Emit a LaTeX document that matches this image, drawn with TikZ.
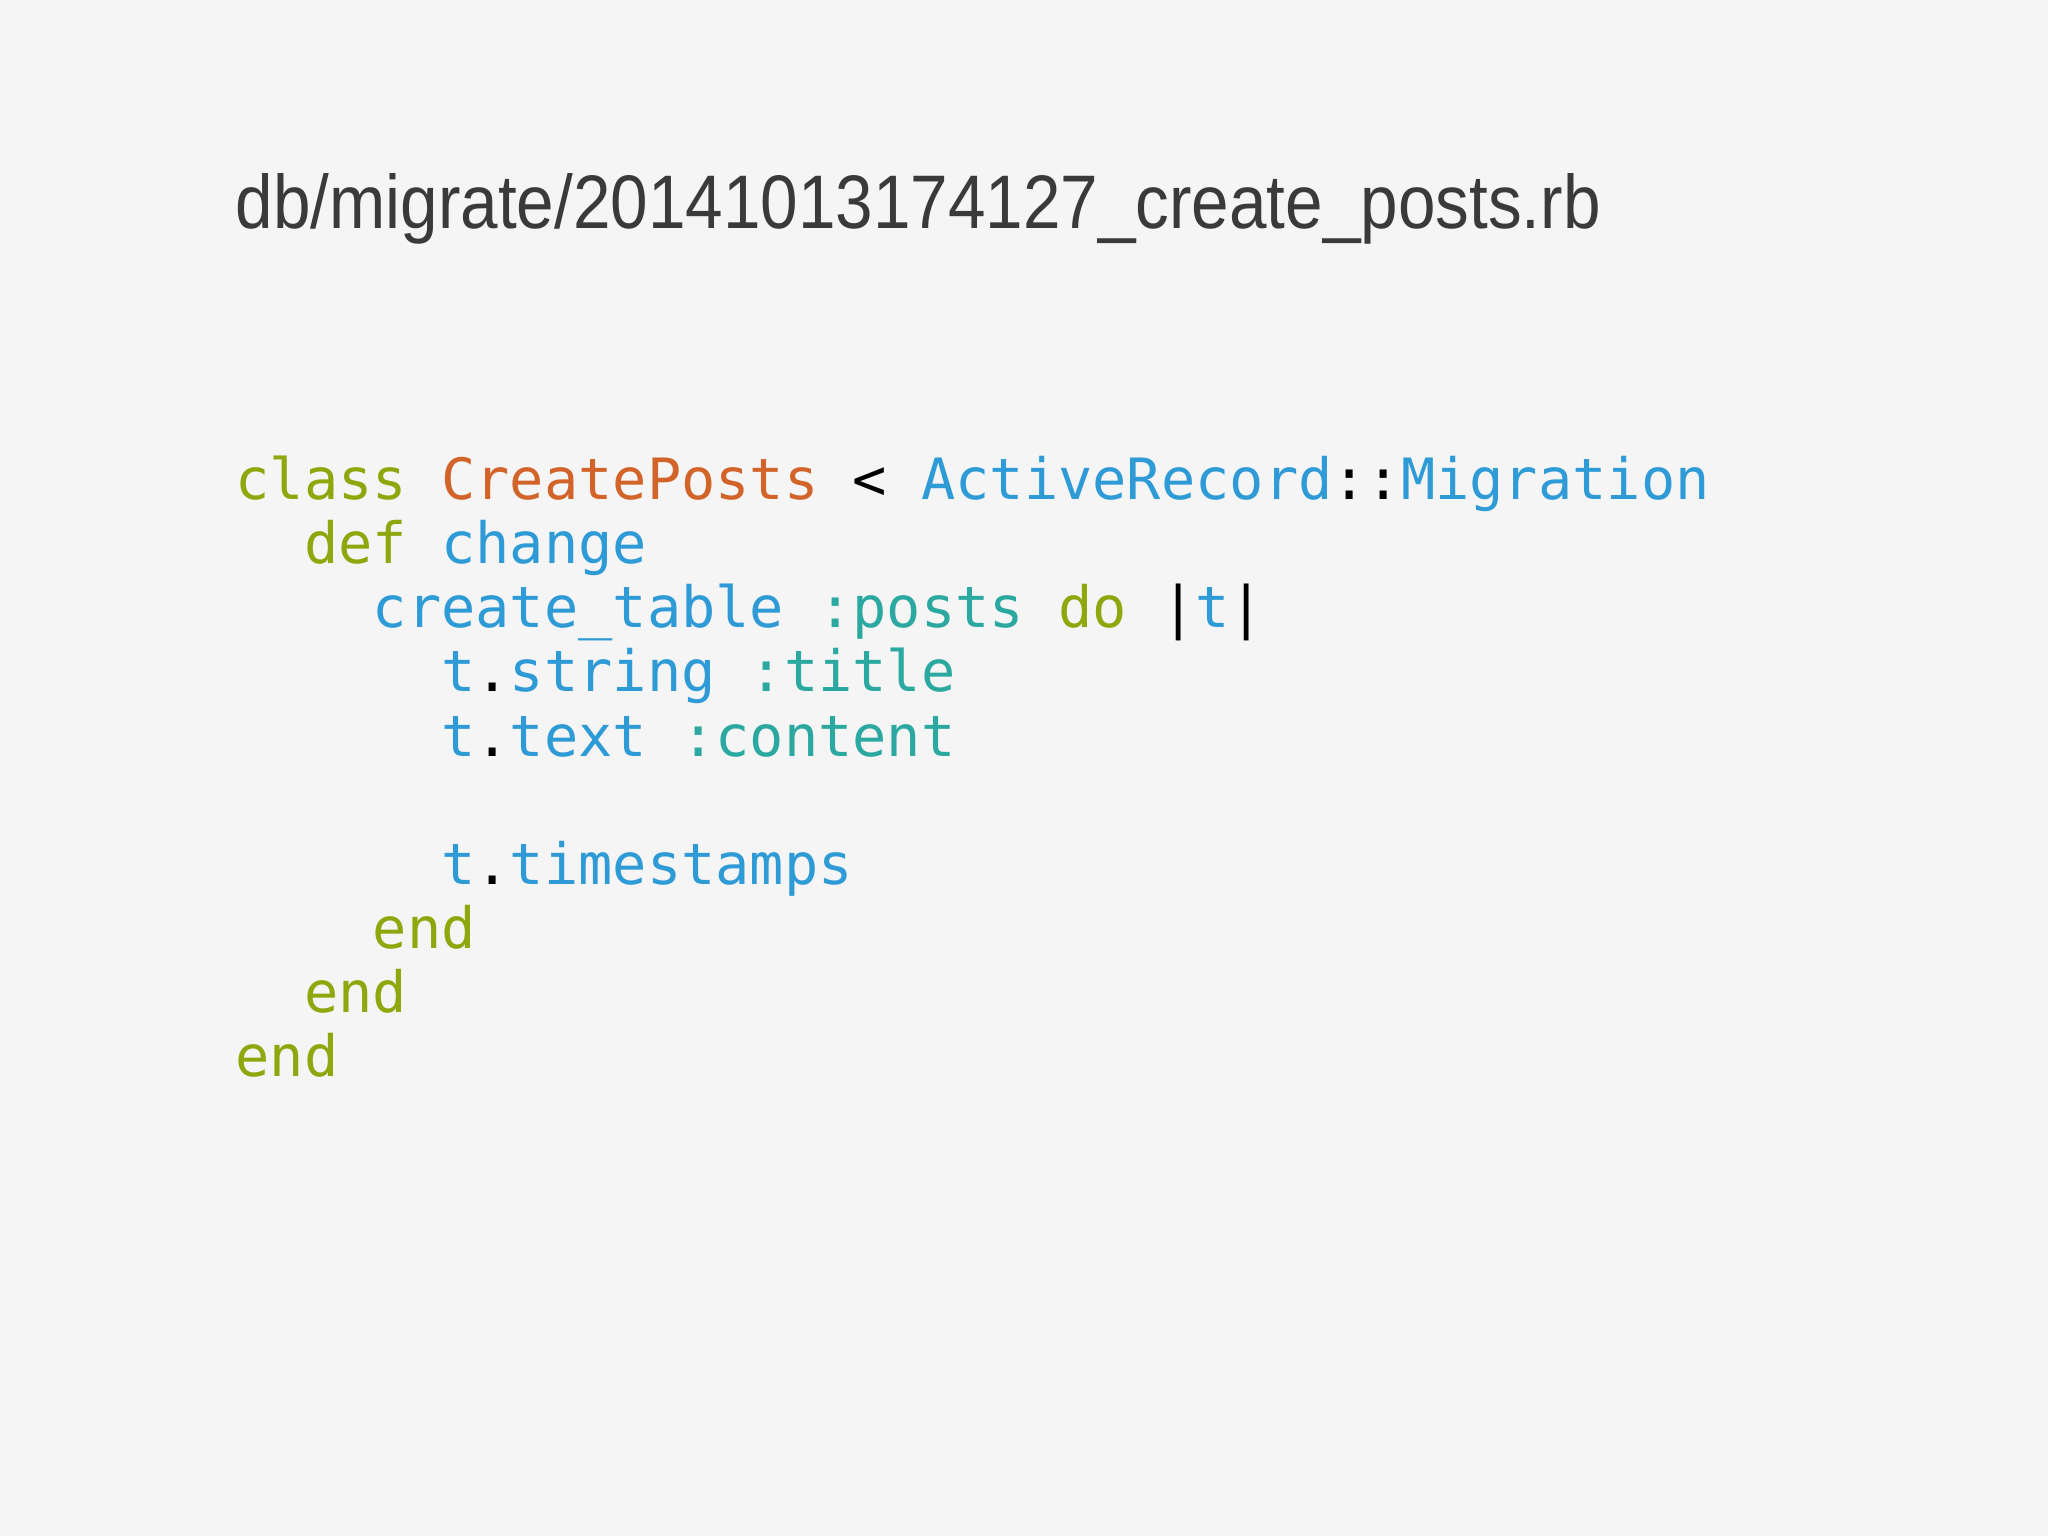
\documentclass[tikz,border=0pt]{standalone}
\usepackage{fontspec}
\setmainfont{Liberation Sans}
\setmonofont{DejaVu Sans Mono}
\definecolor{bg}{HTML}{F5F5F6}
\definecolor{kw}{HTML}{8EA70C}
\definecolor{cn}{HTML}{D2642A}
\definecolor{fn}{HTML}{2E9BD6}
\definecolor{sy}{HTML}{2BA9A0}
\definecolor{tt}{HTML}{3A3A3A}
\newcommand{\rbK}[1]{\textcolor{kw}{#1}}
\newcommand{\rbC}[1]{\textcolor{cn}{#1}}
\newcommand{\rbF}[1]{\textcolor{fn}{#1}}
\newcommand{\rbS}[1]{\textcolor{sy}{#1}}
\tikzset{codeline/.style={anchor=base west,inner sep=0pt,font=\fontsize{16.2pt}{19pt}\ttfamily}}
\begin{document}
\begin{tikzpicture}
\fill[bg] (0,0) rectangle (20.48,-15.36);
\node[anchor=base west,inner sep=0pt,text=tt] (title) at (2.35,-2.29) {\resizebox{13.65cm}{0.55cm}{db/migrate/20141013174127\_create\_posts.rb}};
\def\dy{0.64}
\node[codeline] (l0) at (2.35,-5.0) {\rbK{class} \rbC{CreatePosts} < \rbF{ActiveRecord}::\rbF{Migration}};
\node[codeline] (l1) at (2.35,-5.0-1*\dy) {\phantom{xx}\rbK{def} \rbF{change}};
\node[codeline] (l2) at (2.35,-5.0-2*\dy) {\phantom{xxxx}\rbF{create\_table} \rbS{:posts} \rbK{do} |\rbF{t}|};
\node[codeline] (l3) at (2.35,-5.0-3*\dy) {\phantom{xxxxxx}\rbF{t}.\rbF{string} \rbS{:title}};
\node[codeline] (l4) at (2.35,-5.0-4*\dy) {\phantom{xxxxxx}\rbF{t}.\rbF{text} \rbS{:content}};
\node[codeline] (l6) at (2.35,-5.0-6*\dy) {\phantom{xxxxxx}\rbF{t}.\rbF{timestamps}};
\node[codeline] (l7) at (2.35,-5.0-7*\dy) {\phantom{xxxx}\rbK{end}};
\node[codeline] (l8) at (2.35,-5.0-8*\dy) {\phantom{xx}\rbK{end}};
\node[codeline] (l9) at (2.35,-5.0-9*\dy) {\rbK{end}};
\end{tikzpicture}
\end{document}
